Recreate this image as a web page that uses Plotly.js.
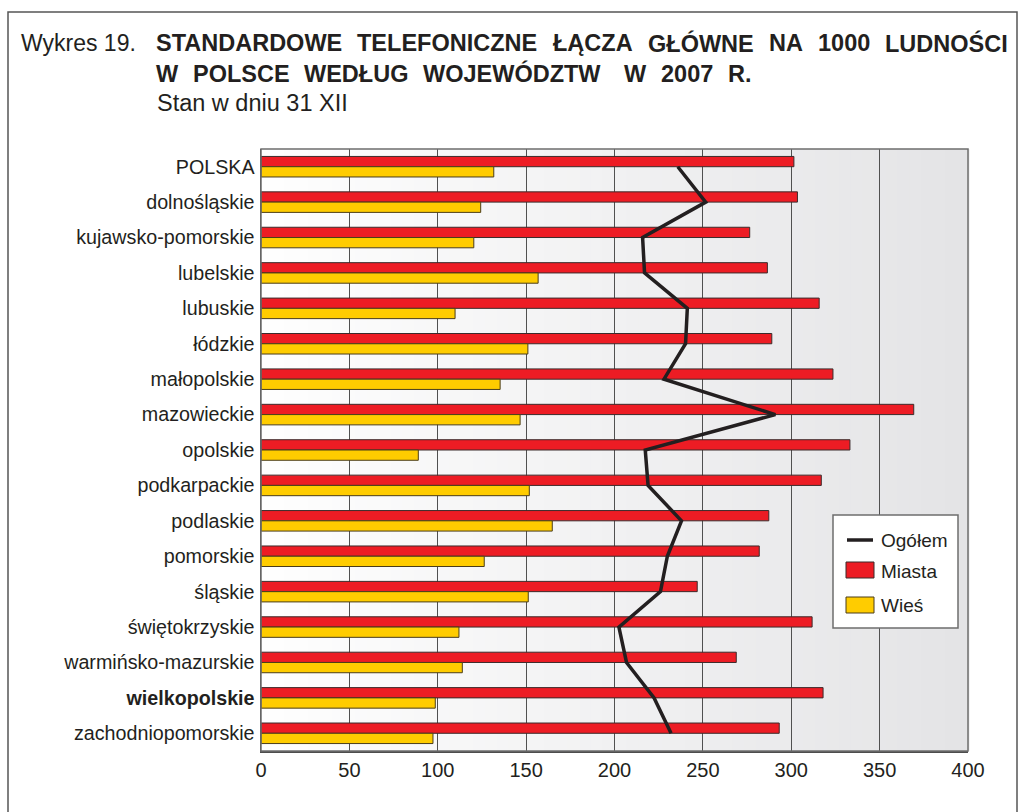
<!DOCTYPE html>
<html>
<head>
<meta charset="utf-8">
<script src="https://cdn.plot.ly/plotly-3.0.1.min.js"></script>
<style>html,body{margin:0;padding:0;background:#fff;}</style>
</head>
<body>
<div id="chart" style="width:1019px;height:812px;"></div>
<script>
const categories = ["POLSKA","dolnośląskie","kujawsko-pomorskie","lubelskie","lubuskie","łódzkie","małopolskie","mazowieckie","opolskie","podkarpackie","podlaskie","pomorskie","śląskie","świętokrzyskie","warmińsko-mazurskie","wielkopolskie","zachodniopomorskie"];
const tickLabels = ["POLSKA","dolnośląskie","kujawsko-pomorskie","lubelskie","lubuskie","łódzkie","małopolskie","mazowieckie","opolskie","podkarpackie","podlaskie","pomorskie","śląskie","świętokrzyskie","warmińsko-mazurskie","<b>wielkopolskie</b>","zachodniopomorskie"];
const miasta = [301.5,303.5,276.5,286.5,315.8,289.0,323.6,369.3,333.2,317.0,287.3,281.9,246.8,311.8,268.9,318.0,293.2];
const wies   = [131.7,124.3,120.4,156.8,109.8,151.0,135.3,146.6,89.0,151.8,164.8,126.3,151.2,112.0,113.9,98.6,97.3];
const ogolem = [235.8,251.6,215.9,217.0,241.2,240.2,228.0,291.0,217.4,219.0,237.9,229.9,226.0,202.5,206.8,222.4,232.0];
const xTicks = [0,50,100,150,200,250,300,350,400];
const seriesNames = ["Ogółem","Miasta","Wieś"];
const titleLead = "Wykres 19.";
const titleLine1 = ["STANDARDOWE","TELEFONICZNE","ŁĄCZA","GŁÓWNE","NA","1000","LUDNOŚCI"];
const titleLine2 = ["W","POLSCE","WEDŁUG","WOJEWÓDZTW","W","2007","R."];
const subtitle = "Stan w dniu 31 XII";

const W = 1019, H = 812;
const L = 261, R = 968, T = 149, B = 751;
const px = v => (v - L) / (R - L);
const py = v => (B - v) / (B - T);

const font = "Liberation Sans, Arial, Helvetica, sans-serif";
const ink = '#231f20';
const RED = '#ed1c24', YEL = '#ffcc00';
const TITLE_SIZE = 23.5;

const traces = [
  {type:'bar', orientation:'h', name:seriesNames[1], y:categories, x:miasta,
   marker:{color:RED, line:{color:'#3b2b2b', width:1}}},
  {type:'bar', orientation:'h', name:seriesNames[2], y:categories, x:wies,
   marker:{color:YEL, line:{color:'#4a3d1a', width:1}}},
  {type:'scatter', mode:'lines', name:seriesNames[0], y:categories, x:ogolem,
   line:{color:ink, width:3.5}}
];

const shapes = [];
const N = 60;
for (let i = 0; i < N; i++) {
  const t = i / (N - 1);
  const c0 = [254,254,254], c1 = [228,228,230];
  const c = c0.map((a, k) => Math.round(a + (c1[k] - a) * t));
  shapes.push({type:'rect', xref:'x domain', yref:'y domain', x0:i/N, x1:(i+1)/N + 0.002, y0:0, y1:1,
    fillcolor:`rgb(${c[0]},${c[1]},${c[2]})`, line:{width:0}, layer:'below'});
}
shapes.push({type:'rect', xref:'x domain', yref:'y domain', x0:0, x1:1, y0:0, y1:1,
  line:{color:'#6d6d6d', width:1.5}, fillcolor:'rgba(0,0,0,0)', layer:'above'});
shapes.push({type:'rect', xref:'paper', yref:'paper', x0:px(8), x1:px(1017), y0:py(830), y1:py(12),
  line:{color:'#555', width:1.5}, fillcolor:'rgba(0,0,0,0)', layer:'above'});

// manual legend
shapes.push({type:'rect', xref:'paper', yref:'paper', x0:px(833), x1:px(958), y0:py(628), y1:py(515),
  line:{color:'#6d6d6d', width:1.5}, fillcolor:'#ffffff', layer:'above'});
shapes.push({type:'line', xref:'paper', yref:'paper', x0:px(847), x1:px(873), y0:py(540), y1:py(540),
  line:{color:ink, width:3.5}, layer:'above'});
shapes.push({type:'rect', xref:'paper', yref:'paper', x0:px(846), x1:px(874), y0:py(578), y1:py(562),
  line:{color:'#3b2b2b', width:1}, fillcolor:RED, layer:'above'});
shapes.push({type:'rect', xref:'paper', yref:'paper', x0:px(846), x1:px(874), y0:py(613), y1:py(597),
  line:{color:'#4a3d1a', width:1}, fillcolor:YEL, layer:'above'});

const annotations = [];
const tf = s => ({family:font, size:s, color:ink});

// justified title lines: measure word widths and spread gaps (weighted) evenly
const ctx = document.createElement('canvas').getContext('2d');
ctx.font = `bold ${TITLE_SIZE}px "Liberation Sans", Arial, sans-serif`;
function justify(words, x0, x1, yPix, weights) {
  const widths = words.map(w => ctx.measureText(w).width);
  const total = widths.reduce((a, b) => a + b, 0);
  const wts = weights || words.slice(1).map(() => 1);
  const unit = (x1 - x0 - total) / wts.reduce((a, b) => a + b, 0);
  let x = x0;
  words.forEach((w, i) => {
    annotations.push({xref:'paper', yref:'paper', x:px(x), y:py(yPix), xanchor:'left', yanchor:'middle',
      showarrow:false, text:'<b>'+w+'</b>', font:tf(TITLE_SIZE), borderpad:0, borderwidth:0});
    if (i < wts.length) x += widths[i] + unit * wts[i];
  });
}

annotations.push({xref:'paper', yref:'paper', x:px(19), y:py(43), xanchor:'left', yanchor:'middle', showarrow:false,
  text:titleLead, font:tf(23)});
justify(titleLine1, 156, 1008, 43);
justify(titleLine2, 156, 751, 74, [1,1,1,1.6,1,1]);
annotations.push({xref:'paper', yref:'paper', x:px(155), y:py(103), xanchor:'left', yanchor:'middle', showarrow:false,
  text:subtitle, font:tf(23.5)});
[[540,0],[571,1],[605,2]].forEach(([yy, k]) => annotations.push({xref:'paper', yref:'paper', x:px(879), y:py(yy),
  xanchor:'left', yanchor:'middle', showarrow:false, text:seriesNames[k], font:tf(19)}));

const layout = {
  width: W, height: H,
  margin: {l: L, r: W - R, t: T, b: H - B, pad: 0},
  paper_bgcolor: '#ffffff',
  plot_bgcolor: 'rgba(0,0,0,0)',
  barmode: 'group',
  bargap: 0.42,
  bargroupgap: 0,
  font: {family: font, color: ink, size: 16},
  showlegend: false,
  xaxis: {range:[0,400], tickvals:xTicks, ticktext:xTicks.map(String), showgrid:true, gridcolor:'#505050', gridwidth:1,
    zeroline:false, showline:true, linecolor:'#4d4d4d', linewidth:1.5, ticks:'', ticklabelstandoff:0,
    tickfont:{family:font, size:20, color:ink}, fixedrange:true},
  yaxis: {type:'category', categoryorder:'array', categoryarray:categories, tickvals:categories, ticktext:tickLabels,
    range:[categories.length - 0.5, -0.5], autorange:false, showgrid:false, zeroline:false, showline:true, linecolor:'#4d4d4d', linewidth:1.5,
    ticks:'', ticklabelstandoff: 1, tickfont:{family:font, size:19.7, color:ink}, fixedrange:true},
  shapes: shapes,
  annotations: annotations
};

Plotly.newPlot('chart', traces, layout, {displayModeBar:false, staticPlot:true});
</script>
</body>
</html>
